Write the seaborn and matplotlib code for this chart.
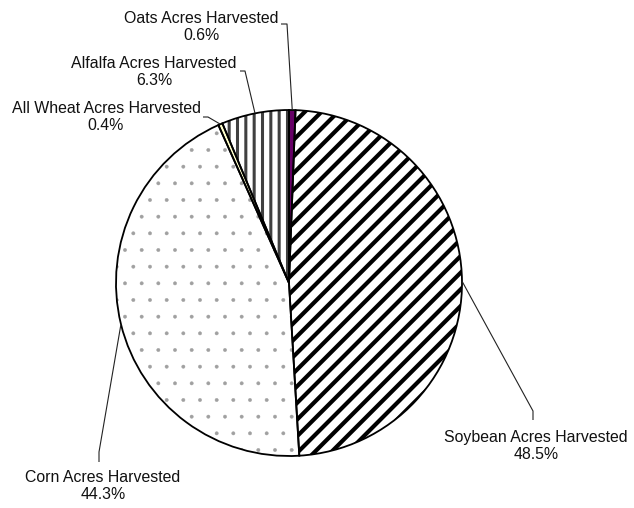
import numpy as np
import matplotlib
matplotlib.use("Agg")
import matplotlib.pyplot as plt
import seaborn as sns

# slice order clockwise from 12 o'clock
crops = ["Oats Acres Harvested", "Soybean Acres Harvested", "Corn Acres Harvested",
         "All Wheat Acres Harvested", "Alfalfa Acres Harvested"]
shares = [0.6, 48.5, 44.3, 0.4, 6.3]

fills = ["#660066", "white", "white", "#ffffcc", "white"]
hatches = [None, "//", ".", None, "||"]
hatch_colors = ["#660066", "black", "#a0a0a0", "#ffffcc", "#404040"]
hatch_widths = [1.0, 3.0, 0.3, 1.0, 2.2]

# label layout in pixel coords (y from top): text centre, leader elbow, leader end
text_pos = [(201, 27), (536, 446), (103, 486), (106, 117), (154, 72)]
leader_pts = [
    [(281, 24), (287, 24)],
    [(533, 411), (533, 420)],
    [(99, 452), (99, 462)],
    [(203, 117), (208, 117)],
    [(240, 71), (245, 71)],
]

sns.set_theme(style="white")
plt.rcParams["font.family"] = ["Liberation Sans", "DejaVu Sans"]

W, H = 634, 508
fig = plt.figure(figsize=(W / 100, H / 100), dpi=100)
ax = fig.add_axes([0, 0, 1, 1])

cx, cy, r = 289, H - 283, 173

wedges, _ = ax.pie(shares, startangle=90, counterclock=False, center=(cx, cy),
                   radius=r, colors=fills, wedgeprops=dict(linewidth=0))
for w, h, hc, hw in zip(wedges, hatches, hatch_colors, hatch_widths):
    w.set_edgecolor(hc)
    if h:
        w.set_hatch(h)
        if hasattr(w, "set_hatch_linewidth"):
            w.set_hatch_linewidth(hw)

# black outlines on top
ax.pie(shares, startangle=90, counterclock=False, center=(cx, cy), radius=r,
       wedgeprops=dict(fill=False, edgecolor="black", linewidth=1.3))

for w, name, val, (tx, ty), pts in zip(wedges, crops, shares, text_pos, leader_pts):
    th = np.deg2rad((w.theta1 + w.theta2) / 2)
    anchor = (cx + r * np.cos(th), cy + r * np.sin(th))
    xs = [p[0] for p in pts]
    ys = [H - p[1] for p in pts]
    if name.startswith("Soybean") or name.startswith("Corn"):
        xs = [anchor[0]] + xs
        ys = [anchor[1]] + ys
    else:
        xs = xs + [anchor[0]]
        ys = ys + [anchor[1]]
    ax.plot(xs, ys, color="#222222", lw=0.8, solid_capstyle="butt")
    ax.text(tx, H - ty, f"{name}\n{val:.1f}%", ha="center", va="center",
            fontsize=11.4, linespacing=1.1, color="#111111")

ax.set_xlim(0, W)
ax.set_ylim(0, H)
ax.set_aspect("equal")
ax.axis("off")

fig.savefig("out.png", dpi=100)
